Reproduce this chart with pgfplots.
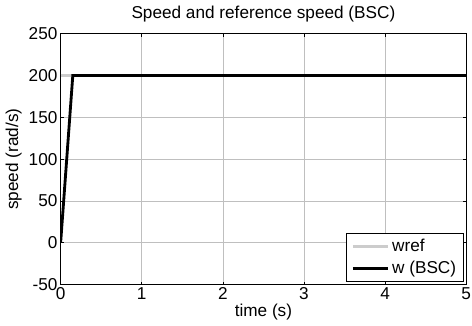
\documentclass[border=0pt]{standalone}
\usepackage{pgfplots}
\pgfplotsset{compat=1.18}
\usepackage{fontspec}
\setmainfont{Liberation Sans}
\begin{document}
\fontsize{17}{20}\selectfont
\begin{tikzpicture}
\begin{axis}[
  scale only axis,
  width=401pt, height=248pt,
  xmin=0, xmax=5, ymin=-50, ymax=250,
  xtick={0,1,2,3,4,5}, ytick={-50,0,50,100,150,200,250},
  /pgf/number format/assume math mode=true,
  tick label style={font=\fontsize{17}{20}\selectfont},
  xticklabel style={inner sep=1pt, yshift=-2pt},
  yticklabel style={inner sep=1pt, xshift=-2pt},
  label style={font=\fontsize{17}{20}\selectfont},
  title style={font=\fontsize{17}{20}\selectfont, yshift=0pt},
  title={Speed and reference speed (BSC)},
  xlabel={time (s)}, ylabel={speed (rad/s)},
  xlabel style={yshift=3pt}, ylabel style={yshift=0pt},
  grid=major,
  major grid style={gray!50, line width=0.7pt},
  tick align=inside, tick pos=both,
  major tick length=3pt,
  tick style={black, line width=0.6pt},
  axis line style={black, line width=0.9pt},
  legend style={draw=black, line width=0.9pt, font=\fontsize{17}{20}\selectfont, inner xsep=5pt, inner ysep=3pt, row sep=2pt, nodes={inner sep=2.5pt}, at={(0.995,0.01)}, anchor=south east},
  legend cell align=left,
  legend image code/.code={\draw[#1, line width=2.8pt] (0pt,0pt) -- (35pt,0pt);},
]
\addplot[gray!40, line width=2.8pt] coordinates {(0,200) (5,200)};
\addlegendentry{wref}
\addplot[black, line width=2.8pt] coordinates {(0,0) (0.15,200) (5,200)};
\addlegendentry{w (BSC)}
\end{axis}
\end{tikzpicture}
\end{document}
